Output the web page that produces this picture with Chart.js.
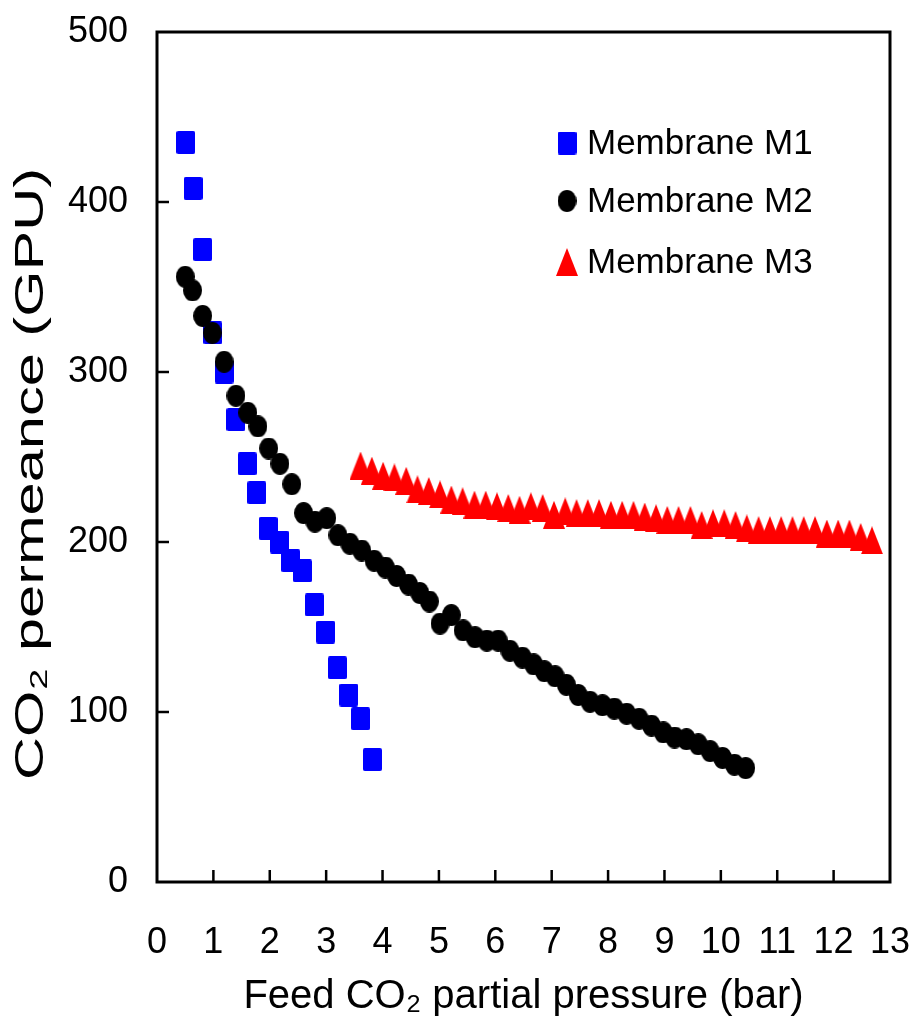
<!DOCTYPE html>
<html>
<head>
<meta charset="utf-8">
<script src="https://cdn.jsdelivr.net/npm/chart.js@4.4.1/dist/chart.umd.min.js"></script>
<style>
  html, body { margin: 0; padding: 0; background: #fff; }
  #chart { display: block; }
</style>
</head>
<body>
<canvas id="chart" width="921" height="1024"></canvas>
<script>
// values
const m1X = [0.51, 0.64, 0.81, 0.99, 1.19, 1.40, 1.60, 1.77, 1.97, 2.17, 2.37, 2.58, 2.79, 2.99, 3.20, 3.40, 3.61, 3.82];
const m1Y = [435, 408, 372, 323, 300, 272, 246, 229, 208, 200, 189, 183, 163, 147, 126, 110, 96, 72];

const m2X = [0.50, 0.63, 0.81, 0.98, 1.19, 1.40, 1.61, 1.79, 1.98, 2.18,
             2.39, 2.60, 2.80, 3.01, 3.21, 3.42, 3.63, 3.85, 4.05, 4.25,
             4.46, 4.66, 4.83, 5.02, 5.22, 5.43, 5.64, 5.85, 6.05, 6.26,
             6.48, 6.68, 6.87, 7.06, 7.26, 7.47, 7.68, 7.90, 8.11, 8.33,
             8.55, 8.77, 8.98, 9.18, 9.39, 9.60, 9.81, 10.03, 10.24, 10.44];
const m2Y = [356, 348, 333, 323, 306, 286, 276, 268, 255, 246,
             234, 217, 212, 214, 204, 199, 195, 189, 185, 180,
             175, 170, 165, 152, 157, 148, 144, 142, 142, 136,
             132, 128, 124, 121, 116, 110, 106, 104, 102, 99,
             96, 92, 88, 85, 84, 81, 77, 73, 69, 67];

const m3X = [3.61, 3.81, 4.01, 4.21, 4.42, 4.62, 4.82, 5.02, 5.22, 5.42,
             5.63, 5.83, 6.03, 6.23, 6.43, 6.63, 6.84, 7.04, 7.24, 7.44,
             7.64, 7.84, 8.05, 8.25, 8.45, 8.65, 8.85, 9.05, 9.25, 9.46,
             9.66, 9.86, 10.06, 10.26, 10.46, 10.67, 10.87, 11.07, 11.27, 11.47,
             11.67, 11.88, 12.08, 12.28, 12.48, 12.68];
const m3Y = [245, 242, 239, 238, 236, 231, 230, 228, 225, 224,
             222, 222, 221, 220, 219, 221, 220, 216, 218, 217,
             217, 217, 216, 216, 216, 215, 214, 213, 213, 213,
             210, 211, 211, 210, 208, 207, 207, 207, 207, 207,
             207, 205, 205, 205, 203, 201];

const seriesNames = ['Membrane M1', 'Membrane M2', 'Membrane M3'];
const xTickValues = [0, 1, 2, 3, 4, 5, 6, 7, 8, 9, 10, 11, 12, 13];
const yTickValues = [0, 100, 200, 300, 400, 500];
const xTitle = 'Feed CO\u2082 partial pressure (bar)';
const yTitle = 'CO\u2082 permeance (GPU)';

const FONT = '"Liberation Sans", Arial, sans-serif';

// markers in the picture are a bit taller than wide, so draw them on small canvases
function makeMarker(kind, w, h, color) {
  const c = document.createElement('canvas');
  c.width = w;
  c.height = h;
  const g = c.getContext('2d');
  g.fillStyle = color;
  g.beginPath();
  if (kind === 'square') {
    g.roundRect(0, 0, w, h, 2);
  } else if (kind === 'circle') {
    g.ellipse(w / 2, h / 2, w / 2, h / 2, 0, 0, Math.PI * 2);
  } else {
    g.moveTo(w / 2, 0);
    g.lineTo(w, h);
    g.lineTo(0, h);
    g.closePath();
  }
  g.fill();
  return c;
}

const squareMark = makeMarker('square', 19, 23, '#0000ff');
const circleMark = makeMarker('circle', 19, 22, '#000000');
const triangleMark = makeMarker('triangle', 22, 28, '#ff0000');

function toPoints(xs, ys) {
  return xs.map((x, i) => ({ x: x, y: ys[i] }));
}

// keep end labels from pushing the plot area in
function noEdgePadding(s) {
  s.paddingTop = 0;
  s.paddingBottom = 0;
  s.paddingLeft = 0;
  s.paddingRight = 0;
}

const frame = {
  id: 'frame',
  afterDraw(chart) {
    const ctx = chart.ctx;
    const area = chart.chartArea;
    const xs = chart.scales.x;
    const ys = chart.scales.y;
    ctx.save();

    // box round the plot
    ctx.strokeStyle = '#000';
    ctx.lineWidth = 3;
    ctx.strokeRect(area.left, area.top, area.right - area.left, area.bottom - area.top);

    // inward tick marks
    ctx.lineWidth = 2.5;
    ctx.beginPath();
    xTickValues.slice(1, -1).forEach(v => {
      const px = xs.getPixelForValue(v);
      ctx.moveTo(px, area.bottom);
      ctx.lineTo(px, area.bottom - 12);
    });
    yTickValues.slice(1, -1).forEach(v => {
      const py = ys.getPixelForValue(v);
      ctx.moveTo(area.left, py);
      ctx.lineTo(area.left + 12, py);
    });
    ctx.stroke();

    // y title, stretched along its length like the original
    ctx.save();
    ctx.translate(32, 474);
    ctx.rotate(-Math.PI / 2);
    ctx.font = '40px ' + FONT;
    ctx.fillStyle = '#000';
    ctx.textAlign = 'center';
    ctx.textBaseline = 'middle';
    const tw = ctx.measureText(yTitle).width;
    ctx.scale(612 / tw, 1);
    ctx.fillText(yTitle, 0, 0);
    ctx.restore();

    // legend inside the plot, top right
    const rows = [143, 201, 262];
    ctx.font = '35px ' + FONT;
    ctx.fillStyle = '#000';
    ctx.textAlign = 'left';
    ctx.textBaseline = 'middle';
    chart.data.datasets.forEach((ds, i) => {
      const img = ds.pointStyle;
      ctx.drawImage(img, 567 - img.width / 2, rows[i] - img.height / 2);
      ctx.fillText(ds.label, 587, rows[i] + 1);
    });

    ctx.restore();
  }
};

new Chart(document.getElementById('chart'), {
  type: 'scatter',
  data: {
    datasets: [
      { label: seriesNames[0], data: toPoints(m1X, m1Y), pointStyle: squareMark, order: 2 },
      { label: seriesNames[1], data: toPoints(m2X, m2Y), pointStyle: circleMark, order: 1 },
      { label: seriesNames[2], data: toPoints(m3X, m3Y), pointStyle: triangleMark, order: 0 }
    ]
  },
  options: {
    responsive: false,
    animation: false,
    events: [],
    devicePixelRatio: 1,
    layout: { padding: { top: 32, right: 31, left: 0, bottom: 0 } },
    plugins: {
      legend: { display: false },
      tooltip: { enabled: false }
    },
    scales: {
      x: {
        type: 'linear',
        min: 0,
        max: 13,
        afterBuildTicks: s => { s.ticks = xTickValues.map(v => ({ value: v })); },
        afterFit: s => { s.height = 142; noEdgePadding(s); },
        grid: { display: false },
        border: { display: false },
        ticks: { color: '#000', padding: 31, maxRotation: 0, font: { family: FONT, size: 36 } },
        title: {
          display: true,
          text: xTitle,
          color: '#000',
          padding: { top: 0, bottom: 3 },
          font: { family: FONT, size: 40 }
        }
      },
      y: {
        type: 'linear',
        min: 0,
        max: 500,
        afterBuildTicks: s => { s.ticks = yTickValues.map(v => ({ value: v })); },
        afterFit: s => { s.width = 157; noEdgePadding(s); },
        grid: { display: false },
        border: { display: false },
        ticks: { color: '#000', padding: 21, font: { family: FONT, size: 36 } },
        title: { display: false, text: yTitle }
      }
    }
  },
  plugins: [frame]
});
</script>
</body>
</html>
